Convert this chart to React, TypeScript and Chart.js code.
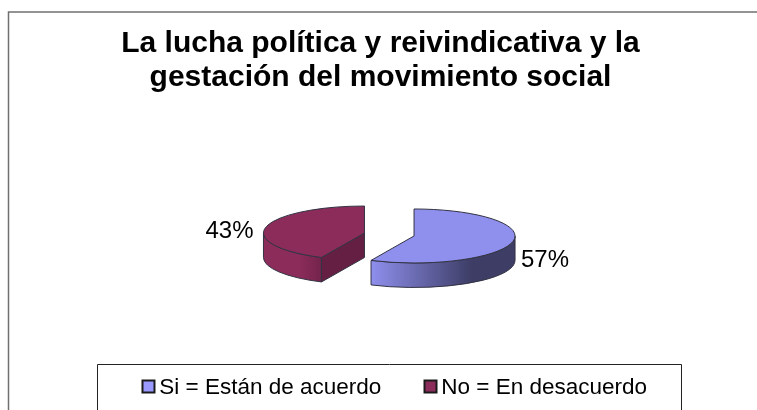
import React, { useEffect, useRef } from "react";
import { Chart, registerables } from "chart.js";

Chart.register(...registerables);

const titleLines = ["La lucha política y reivindicativa y la", "gestación del movimiento social"];
const categories = ["Si = Están de acuerdo", "No = En desacuerdo"];
const seriesValues = [57, 43];
const sliceColors = ["#8f8fee", "#8c2c5b"];

const FONT = "'Liberation Sans', Arial, sans-serif";
const PIE_CX = 389.25;
const PIE_CY = 234.5;
const SQUASH = 27 / 101;
const DEPTH = 24.5;
const EXPLODE = 25.4;
const OUTLINE = "#333344";
const LEGEND_DX = 14;
const LEGEND_DY = -1;
const labelPos = [
  { x: 545, y: 260 },
  { x: 229.5, y: 231 },
];

function geom(el: any) {
  const mid = (el.startAngle + el.endAngle) / 2;
  const R = el.outerRadius;
  return {
    cx: PIE_CX + Math.cos(mid) * EXPLODE,
    cy: PIE_CY + Math.sin(mid) * EXPLODE * SQUASH,
    R,
    Ry: R * SQUASH,
    a0: el.startAngle,
    a1: el.endAngle,
  };
}

const pie3d = {
  id: "pie3d",
  beforeDraw(chart: any) {
    const { ctx } = chart;
    ctx.save();
    ctx.fillStyle = "#ffffff";
    ctx.fillRect(0, 0, chart.width, chart.height);
    ctx.strokeStyle = "#707070";
    ctx.lineWidth = 1.5;
    ctx.beginPath();
    ctx.moveTo(8.5, 410);
    ctx.lineTo(8.5, 12);
    ctx.lineTo(757, 12);
    ctx.stroke();
    ctx.strokeStyle = "#222222";
    ctx.lineWidth = 1;
    ctx.beginPath();
    ctx.moveTo(97.5, 410);
    ctx.lineTo(97.5, 364.5);
    ctx.lineTo(681.5, 364.5);
    ctx.lineTo(681.5, 410);
    ctx.stroke();
    ctx.restore();
  },
  afterLayout(chart: any) {
    const legend = chart.legend;
    legend.left += LEGEND_DX;
    legend.right += LEGEND_DX;
    legend.top += LEGEND_DY;
    legend.bottom += LEGEND_DY;
  },
  afterDraw(chart: any) {
    const { ctx } = chart;
    ctx.save();
    chart.legend.legendHitBoxes.forEach((hit: any, i: number) => {
      const x = hit.left + 0.5;
      const y = Math.round(hit.top + hit.height / 2 - 7.5) + 0.5;
      ctx.fillStyle = i === 0 ? "#9999ff" : sliceColors[i];
      ctx.strokeStyle = "#1a1a1a";
      ctx.lineWidth = 2;
      ctx.fillRect(x, y, 12, 12);
      ctx.strokeRect(x, y, 12, 12);
    });
    ctx.restore();
  },
  beforeDatasetDraw(chart: any) {
    const { ctx } = chart;
    const arcs = chart.getDatasetMeta(0).data;
    ctx.save();
    arcs.forEach((el: any, i: number) => {
      const g = geom(el);
      const from = Math.max(g.a0, 0);
      const to = Math.min(g.a1, Math.PI);
      if (to > from) {
        const left = g.cx + Math.cos(to) * g.R;
        const right = g.cx + Math.cos(from) * g.R;
        const grad = ctx.createLinearGradient(left, 0, right, 0);
        if (i === 0) {
          grad.addColorStop(0, "#8f8fee");
          grad.addColorStop(0.7, "#3d3d66");
          grad.addColorStop(1, "#3d3d66");
        } else {
          grad.addColorStop(0, "#8c2c5b");
          grad.addColorStop(0.6, "#8c2c5b");
          grad.addColorStop(1, "#74244c");
        }
        ctx.beginPath();
        ctx.ellipse(g.cx, g.cy, g.R, g.Ry, 0, from, to);
        ctx.ellipse(g.cx, g.cy + DEPTH, g.R, g.Ry, 0, to, from, true);
        ctx.closePath();
        ctx.fillStyle = grad;
        ctx.fill();
        ctx.strokeStyle = OUTLINE;
        ctx.lineWidth = 1;
        ctx.stroke();
      }
      if (Math.sin(g.a0 - Math.PI / 2) > 0) {
        const px = g.cx + Math.cos(g.a0) * g.R;
        const py = g.cy + Math.sin(g.a0) * g.Ry;
        ctx.beginPath();
        ctx.moveTo(g.cx, g.cy);
        ctx.lineTo(px, py);
        ctx.lineTo(px, py + DEPTH);
        ctx.lineTo(g.cx, g.cy + DEPTH);
        ctx.closePath();
        ctx.fillStyle = "#641f42";
        ctx.fill();
        ctx.strokeStyle = OUTLINE;
        ctx.lineWidth = 1;
        ctx.stroke();
      }
      ctx.save();
      ctx.translate(g.cx, g.cy);
      ctx.scale(1, SQUASH);
      ctx.translate(-el.x, -el.y);
      el.draw(ctx);
      ctx.restore();
      ctx.beginPath();
      ctx.moveTo(g.cx, g.cy);
      ctx.ellipse(g.cx, g.cy, g.R, g.Ry, 0, g.a0, g.a1);
      ctx.closePath();
      ctx.strokeStyle = OUTLINE;
      ctx.lineWidth = 1;
      ctx.stroke();
      ctx.fillStyle = "#000000";
      ctx.font = `24px ${FONT}`;
      ctx.textAlign = "center";
      ctx.textBaseline = "middle";
      ctx.fillText(`${seriesValues[i]}%`, labelPos[i].x, labelPos[i].y);
    });
    ctx.restore();
    return false;
  },
};

export default function App() {
  const ref = useRef<HTMLCanvasElement>(null);
  useEffect(() => {
    document.body.style.margin = "0";
    const chart = new Chart(ref.current as HTMLCanvasElement, {
      type: "pie",
      data: {
        labels: categories,
        datasets: [
          {
            data: seriesValues,
            backgroundColor: sliceColors,
            borderWidth: 0,
            radius: 101,
            clip: false,
          } as any,
        ],
      },
      options: {
        responsive: false,
        animation: false,
        events: [],
        layout: { padding: { left: 4, top: 27 } },
        plugins: {
          tooltip: { enabled: false },
          title: {
            display: true,
            text: titleLines,
            color: "#000000",
            font: { family: FONT, size: 30, weight: "bold", lineHeight: 1.13 },
            padding: 0,
          },
          legend: {
            position: "bottom",
            labels: {
              color: "#000000",
              font: { family: FONT, size: 22.5 },
              boxWidth: 6,
              boxHeight: 6,
              padding: 42.75,
              generateLabels(c: any) {
                return (Chart as any).overrides.pie.plugins.legend.labels
                  .generateLabels(c)
                  .map((l: any) => ({ ...l, lineWidth: 0, fillStyle: "rgba(0,0,0,0)" }));
              },
            },
          },
        },
      } as any,
      plugins: [pie3d],
    });
    return () => chart.destroy();
  }, []);
  return <canvas ref={ref} width={757} height={410} style={{ display: "block" }} />;
}
